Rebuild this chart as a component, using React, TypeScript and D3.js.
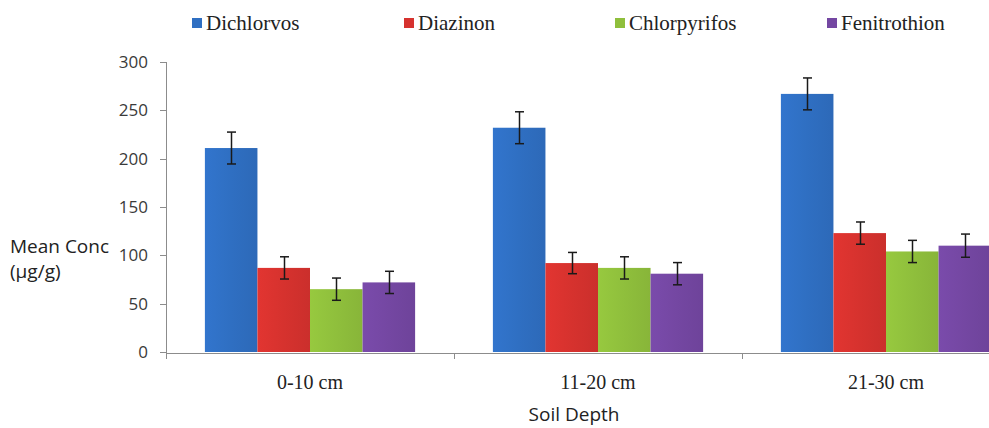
import React, { useEffect, useRef } from 'react';
import * as d3 from 'd3';

const depths = ['0-10 cm', '11-20 cm', '21-30 cm'];
const seriesNames = ['Dichlorvos', 'Diazinon', 'Chlorpyrifos', 'Fenitrothion'];
const dichlorvos = [211, 232, 267];
const diazinon = [87, 92, 123];
const chlorpyrifos = [65, 87, 104];
const fenitrothion = [72, 81, 110];
const dichlorvosErr = [16.5, 16.5, 16.5];
const diazinonErr = [11.5, 11, 11.5];
const chlorpyrifosErr = [11.5, 11.5, 11.5];
const fenitrothionErr = [11.5, 11.5, 12];
const yTicks = [0, 50, 100, 150, 200, 250, 300];
const colors = ['#2f6fc2', '#d6322e', '#8fbf3c', '#7447a2'];

function App() {
  const ref = useRef<SVGSVGElement>(null);

  useEffect(() => {
    const svg = d3.select(ref.current);
    svg.selectAll('*').remove();

    const W = 989, H = 428;
    const margin = { top: 62, left: 166, bottom: 75 };
    const plotRight = 1030; // plot area runs past the picture edge
    const y0 = H - margin.bottom;

    const values = [dichlorvos, diazinon, chlorpyrifos, fenitrothion];
    const errs = [dichlorvosErr, diazinonErr, chlorpyrifosErr, fenitrothionErr];

    const x = d3.scaleBand().domain(depths).range([margin.left, plotRight]).paddingInner(0).paddingOuter(0);
    const xs = d3.scaleBand().domain(seriesNames).range([0, x.bandwidth()]).paddingInner(0).paddingOuter(0.74);
    const y = d3.scaleLinear().domain([0, 300]).range([y0 - 1, margin.top]);

    const axisColor = '#8c8c8c';
    const sans = "Open Sans, Noto Sans, sans-serif";
    const serif = "Liberation Serif, DejaVu Serif, serif";

    const defs = svg.append('defs');
    colors.forEach((c, i) => {
      const g = defs.append('linearGradient').attr('id', `grad${i}`).attr('x1', 0).attr('x2', 1).attr('y1', 0).attr('y2', 0);
      const base = d3.color(c)!;
      g.append('stop').attr('offset', '0%').attr('stop-color', base.brighter(0.15).toString());
      g.append('stop').attr('offset', '50%').attr('stop-color', c);
      g.append('stop').attr('offset', '100%').attr('stop-color', base.darker(0.15).toString());
    });

    // y axis
    svg.append('line')
      .attr('x1', margin.left + 0.5).attr('x2', margin.left + 0.5)
      .attr('y1', margin.top).attr('y2', y0)
      .attr('stroke', axisColor).attr('stroke-width', 1);
    yTicks.forEach(t => {
      svg.append('line')
        .attr('x1', margin.left - 6).attr('x2', margin.left)
        .attr('y1', Math.round(y(t)) + 0.5).attr('y2', Math.round(y(t)) + 0.5)
        .attr('stroke', axisColor);
      svg.append('text')
        .attr('x', margin.left - 18).attr('y', y(t))
        .attr('dy', '0.35em')
        .attr('text-anchor', 'end')
        .attr('font-family', sans).attr('font-size', 17).attr('fill', '#3a3a3a')
        .text(t);
    });

    // bars
    seriesNames.forEach((s, si) => {
      depths.forEach((d, di) => {
        const v = values[si][di];
        const bx = x(d)! + xs(s)!;
        svg.append('rect')
          .attr('x', bx).attr('y', y(v))
          .attr('width', xs.bandwidth()).attr('height', y(0) - y(v))
          .attr('fill', `url(#grad${si})`);
      });
    });

    // x axis
    svg.append('line')
      .attr('x1', margin.left).attr('x2', W)
      .attr('y1', y0 + 0.5).attr('y2', y0 + 0.5)
      .attr('stroke', axisColor);
    [margin.left, ...depths.map(d => x(d)! + x.bandwidth())].forEach(tx => {
      svg.append('line')
        .attr('x1', Math.round(tx) + 0.5).attr('x2', Math.round(tx) + 0.5)
        .attr('y1', y0).attr('y2', y0 + 6)
        .attr('stroke', axisColor);
    });
    depths.forEach(d => {
      svg.append('text')
        .attr('x', x(d)! + x.bandwidth() / 2).attr('y', 389)
        .attr('text-anchor', 'middle')
        .attr('font-family', serif).attr('font-size', 20).attr('fill', '#222')
        .text(d);
    });

    // error bars
    seriesNames.forEach((s, si) => {
      depths.forEach((d, di) => {
        const v = values[si][di];
        const e = errs[si][di];
        const cx = Math.round(x(d)! + xs(s)! + xs.bandwidth() / 2) + 0.5;
        const g = svg.append('g').attr('stroke', '#1a1a1a').attr('stroke-width', 1.5);
        g.append('line').attr('x1', cx).attr('x2', cx).attr('y1', y(v + e)).attr('y2', y(v - e));
        g.append('line').attr('x1', cx - 4.5).attr('x2', cx + 4.5).attr('y1', y(v + e)).attr('y2', y(v + e));
        g.append('line').attr('x1', cx - 4.5).attr('x2', cx + 4.5).attr('y1', y(v - e)).attr('y2', y(v - e));
      });
    });

    // axis titles
    svg.append('text')
      .attr('x', 10).attr('y', 253)
      .attr('font-family', sans).attr('font-size', 19).attr('fill', '#222')
      .text('Mean Conc');
    svg.append('text')
      .attr('x', 10).attr('y', 278)
      .attr('font-family', sans).attr('font-size', 19).attr('fill', '#222')
      .text('(µg/g)');
    svg.append('text')
      .attr('x', 574).attr('y', 421)
      .attr('text-anchor', 'middle')
      .attr('font-family', sans).attr('font-size', 19).attr('fill', '#222')
      .text('Soil Depth');

    // legend
    const legendX = [192, 404, 615, 827];
    seriesNames.forEach((s, i) => {
      svg.append('rect')
        .attr('x', legendX[i]).attr('y', 18)
        .attr('width', 10).attr('height', 10)
        .attr('fill', colors[i]);
      svg.append('text')
        .attr('x', legendX[i] + 14).attr('y', 30)
        .attr('font-family', serif).attr('font-size', 21).attr('fill', '#222')
        .text(s);
    });
  }, []);

  return (
    <svg ref={ref} width={989} height={428}
      style={{ position: 'absolute', left: 0, top: 0, background: '#fff', display: 'block' }} />
  );
}

export default App;
